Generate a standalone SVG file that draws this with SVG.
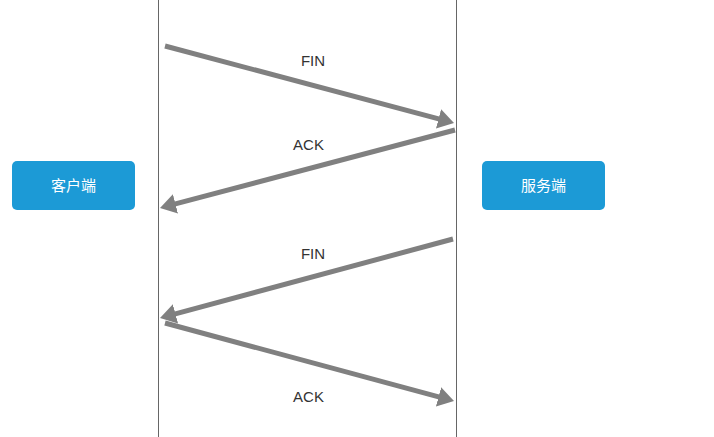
<svg xmlns="http://www.w3.org/2000/svg" width="714" height="437" viewBox="0 0 714 437">
<defs>
<style>
.life{stroke:#666;stroke-width:1;fill:none}
.msg{stroke:#808080;stroke-width:5;fill:none;marker-end:url(#ah)}
.box{fill:#1c9ad6}
.bt{fill:#fff;font-family:"Liberation Sans","Noto Sans CJK SC",sans-serif;font-size:15px;text-anchor:middle}
.lbl{fill:#333;font-family:"Liberation Sans",Arial,sans-serif;font-size:15px;text-anchor:middle}
</style>
<marker id="ah" markerUnits="userSpaceOnUse" markerWidth="16" markerHeight="20" refX="4" refY="10" orient="auto" viewBox="0 0 16 20">
<path d="M0,0 L16,10 L0,20 z" fill="#808080"/>
</marker>
</defs>
<rect width="714" height="437" fill="#fff"/>
<g id="lifelines">
<line class="life" x1="158.5" y1="0" x2="158.5" y2="437"/>
<line class="life" x1="456.5" y1="0" x2="456.5" y2="437"/>
</g>
<g id="client">
<rect class="box" x="12" y="161" width="123" height="49" rx="5"/>
<text class="bt" x="73.5" y="191">客户端</text>
</g>
<g id="server">
<rect class="box" x="482" y="161" width="123" height="49" rx="5"/>
<text class="bt" x="543.5" y="191">服务端</text>
</g>
<g id="connectors">
<line class="msg" x1="165" y1="46" x2="442.4" y2="119.9"/>
<line class="msg" x1="455" y1="130" x2="171.6" y2="204.9"/>
<line class="msg" x1="453" y1="239" x2="171.6" y2="314.9"/>
<line class="msg" x1="165" y1="323" x2="442.4" y2="397.9"/>
</g>
<g id="labels">
<text class="lbl" x="313" y="66">FIN</text>
<text class="lbl" x="308.5" y="150">ACK</text>
<text class="lbl" x="313" y="259">FIN</text>
<text class="lbl" x="308.5" y="402">ACK</text>
</g>
</svg>
